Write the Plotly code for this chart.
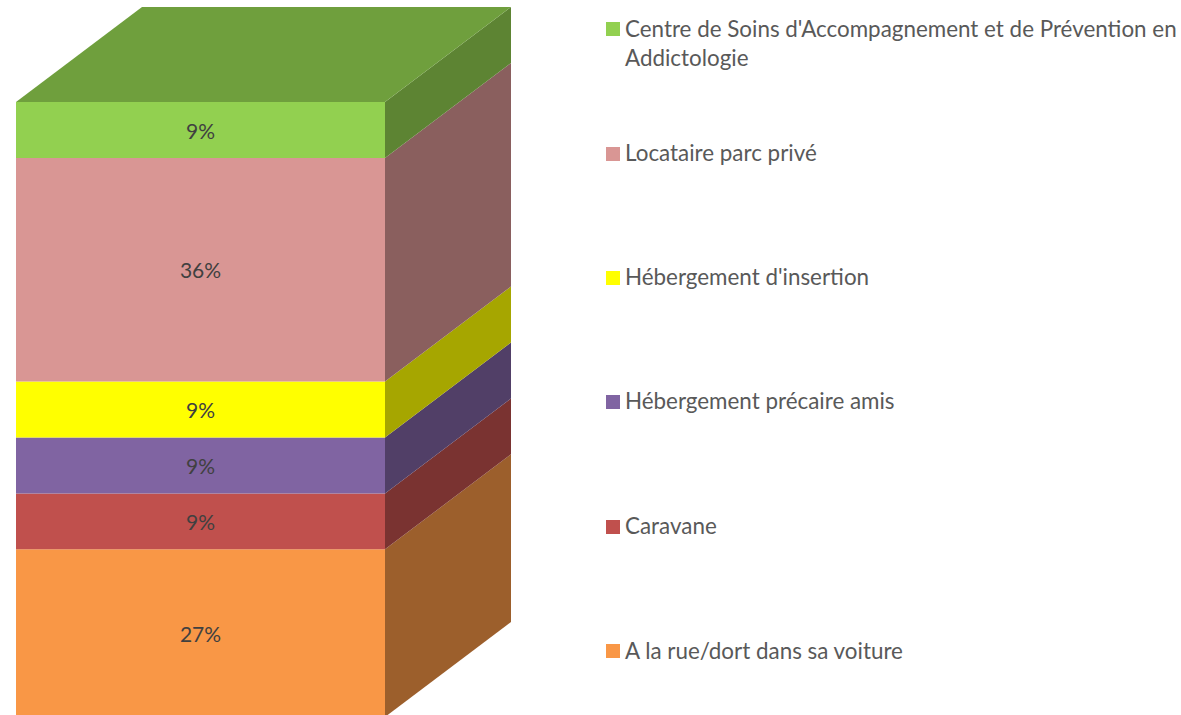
import plotly.graph_objects as go

categories = ["A la rue/dort dans sa voiture", "Caravane", "Hébergement précaire amis",
              "Hébergement d'insertion", "Locataire parc privé",
              "Centre de Soins d'Accompagnement et de Prévention en<br>Addictologie"]
counts = [3, 1, 1, 1, 4, 1]
front_colors = ["#F99746", "#C0504D", "#8064A2", "#FFFF00", "#D99694", "#92D050"]
side_colors = ["#9C5F2C", "#7A3331", "#513F67", "#A6A600", "#8A5F5E", "#5D8433"]
top_color = "#6F9F3D"

TOTAL = sum(counts)
W, H = 1181, 715
PX_PER_UNIT = 55.9
BOTTOM_OVERFLOW_PX = 2  # the box base is slightly cropped by the picture edge
# projected-depth offset of the 3D box
DX = 126
DY = 95 / PX_PER_UNIT
X0, X1 = 16, 385

# custom legend rows, in page pixels (marker centre, text centre)
LEG_SWATCH_X = 613
LEG_TEXT_X = 625
leg_marker_y = [651, 527, 402, 278, 154, 29]
leg_text_y = [650, 525.5, 400.5, 276.5, 152.5, 43]

fig = go.Figure()
base = 0
for name, c, fc, sc in zip(categories, counts, front_colors, side_colors):
    fig.add_trace(go.Scatter(
        x=[X1, X1 + DX, X1 + DX, X1, X1],
        y=[base, base + DY, base + c + DY, base + c, base],
        mode="lines", fill="toself", fillcolor=sc, line=dict(width=0),
        showlegend=False, hoverinfo="skip"))
    fig.add_trace(go.Bar(
        x=[(X0 + X1) / 2], y=[c], base=[base], width=[X1 - X0],
        name=name.replace("<br>", " "), showlegend=False, marker=dict(color=fc, line=dict(width=0)),
        text=[f"{round(c / TOTAL * 100)}%"], textposition="inside", insidetextanchor="middle",
        textangle=0, constraintext="none",
        textfont=dict(family="Lato", size=21, color="#404040")))
    base += c
fig.add_trace(go.Scatter(
    x=[X0, X0 + DX, X1 + DX, X1, X0],
    y=[TOTAL, TOTAL + DY, TOTAL + DY, TOTAL, TOTAL],
    mode="lines", fill="toself", fillcolor=top_color, line=dict(width=0),
    showlegend=False, hoverinfo="skip"))

for name, fc, my, ty in zip(categories, front_colors, leg_marker_y, leg_text_y):
    fig.add_shape(type="rect", xref="x", yref="paper",
                  x0=LEG_SWATCH_X - 7, x1=LEG_SWATCH_X + 7,
                  y0=1 - (my + 7) / H, y1=1 - (my - 7) / H,
                  fillcolor=fc, line=dict(width=0))
    fig.add_annotation(xref="x", yref="paper", x=LEG_TEXT_X, y=1 - ty / H,
                       text=name, showarrow=False, xanchor="left", yanchor="middle", align="left",
                       borderpad=0, borderwidth=0,
                       font=dict(family="Lato", size=22.4, color="#595959"))

fig.update_layout(
    width=W, height=H, margin=dict(l=0, r=0, t=0, b=0),
    paper_bgcolor="white", plot_bgcolor="white", barmode="overlay", showlegend=False,
    xaxis=dict(range=[0, W], visible=False, fixedrange=True),
    yaxis=dict(range=[BOTTOM_OVERFLOW_PX / PX_PER_UNIT, (H + BOTTOM_OVERFLOW_PX) / PX_PER_UNIT],
               visible=False, fixedrange=True),
)
fig.write_html("out.html", config={"displayModeBar": False},
               post_script="document.body.style.margin='0';")
